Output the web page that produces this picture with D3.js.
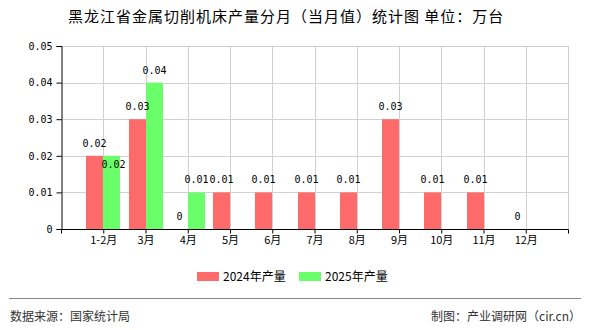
<!DOCTYPE html>
<html>
<head>
<meta charset="utf-8">
<script src="https://cdn.jsdelivr.net/npm/d3@7"></script>
<style>
  html, body { margin: 0; padding: 0; background: #fff; }
  svg { display: block; }
</style>
</head>
<body>
<svg id="chart" width="590" height="330"></svg>
<script>
// 黑龙江省金属切削机床产量分月（当月值）
const months = ["1-2月", "3月", "4月", "5月", "6月", "7月", "8月", "9月", "10月", "11月", "12月"];
const values2024 = [0.02, 0.03, 0, 0.01, 0.01, 0.01, 0.01, 0.03, 0.01, 0.01, 0];
const values2025 = [0.02, 0.04, 0.01, null, null, null, null, null, null, null, null];
const yTicks = [0, 0.01, 0.02, 0.03, 0.04, 0.05];
const seriesNames = ["2024年产量", "2025年产量"];
const seriesColors = ["#ff6a6a", "#6aff6a"];

const svg = d3.select("#chart");
const monoFont = "'DejaVu Sans Mono', 'Liberation Mono', monospace";
const cjkFont = "'Noto Sans CJK SC', 'Noto Sans', sans-serif";

const plotLeft = 61, plotRight = 568, plotTop = 46, plotBottom = 229;
const barW = 17;

const x = d3.scalePoint().domain(months).range([plotLeft, plotRight]).padding(1);
const y = d3.scaleLinear().domain([0, 0.05]).range([plotBottom, plotTop]);

// title
svg.append("text")
  .attr("x", 68).attr("y", 22)
  .attr("text-anchor", "start")
  .style("font-family", cjkFont)
  .style("font-size", "15px")
  .style("letter-spacing", "1px")
  .attr("fill", "#000")
  .text("黑龙江省金属切削机床产量分月（当月值）统计图 单位：万台");

// grid
const grid = svg.append("g").attr("stroke", "#d0d0d0").attr("stroke-width", 1);
yTicks.forEach(t => {
  grid.append("line")
    .attr("x1", plotLeft).attr("x2", plotRight)
    .attr("y1", Math.round(y(t)) + 0.5).attr("y2", Math.round(y(t)) + 0.5);
});
months.forEach(m => {
  grid.append("line")
    .attr("x1", Math.round(x(m)) + 0.5).attr("x2", Math.round(x(m)) + 0.5)
    .attr("y1", plotTop).attr("y2", plotBottom);
});
grid.append("line")
  .attr("x1", plotRight + 0.5).attr("x2", plotRight + 0.5)
  .attr("y1", plotTop).attr("y2", plotBottom);

// bars
const bars = svg.append("g");
months.forEach((m, i) => {
  const cx = Math.round(x(m));
  const v1 = values2024[i];
  if (v1 !== null) {
    bars.append("rect")
      .attr("x", cx - barW).attr("width", barW)
      .attr("y", y(v1)).attr("height", y(0) - y(v1))
      .attr("fill", seriesColors[0]);
  }
  const v2 = values2025[i];
  if (v2 !== null) {
    bars.append("rect")
      .attr("x", cx).attr("width", barW)
      .attr("y", y(v2)).attr("height", y(0) - y(v2))
      .attr("fill", seriesColors[1]);
  }
});

// value labels
const labels = svg.append("g")
  .style("font-family", monoFont)
  .style("font-size", "10px")
  .attr("fill", "#000")
  .attr("text-anchor", "middle");
months.forEach((m, i) => {
  const cx = Math.round(x(m));
  const v1 = values2024[i];
  if (v1 !== null) {
    labels.append("text")
      .attr("x", cx - barW / 2).attr("y", y(v1) - 9)
      .text(String(v1));
  }
  const v2 = values2025[i];
  if (v2 !== null) {
    // the 1-2月 label sits inside the bar, clear of the neighbouring label
    const yy = (i === 0) ? y(v2) + 12 : y(v2) - 9;
    labels.append("text")
      .attr("x", cx + barW / 2 + (i === 0 ? 2 : 0)).attr("y", yy)
      .text(String(v2));
  }
});

// y axis
const yAxis = d3.axisLeft(y).tickValues(yTicks).tickSize(5).tickPadding(4)
  .tickFormat(d => d === 0 ? "0" : d3.format(".2f")(d));
const yg = svg.append("g").attr("transform", `translate(${plotLeft + 0.5},0)`).call(yAxis);
yg.select(".domain").attr("stroke", "#000");
yg.selectAll(".tick line").attr("stroke", "#000");
yg.selectAll(".tick text").style("font-family", monoFont).style("font-size", "10px").attr("fill", "#000");

// x axis
const xAxis = d3.axisBottom(x).tickSize(4).tickPadding(3).tickSizeOuter(4);
const xg = svg.append("g").attr("transform", `translate(0,${plotBottom + 0.5})`).call(xAxis);
xg.select(".domain").attr("stroke", "#000").attr("d", `M${plotLeft + 0.5},4V0H${plotRight + 0.5}V4`);
xg.selectAll(".tick line").attr("stroke", "#000");
xg.selectAll(".tick text").style("font-family", cjkFont).style("font-size", "11px").attr("fill", "#000");

// legend
const legend = svg.append("g").style("font-family", cjkFont).style("font-size", "12px");
const legendX = [197, 299];
seriesNames.forEach((name, i) => {
  legend.append("rect")
    .attr("x", legendX[i]).attr("y", 272).attr("width", 22).attr("height", 9)
    .attr("fill", seriesColors[i]);
  legend.append("text")
    .attr("x", legendX[i] + 26).attr("y", 281)
    .attr("fill", "#000")
    .text(name);
});

// footer
svg.append("line")
  .attr("x1", 9).attr("x2", 581).attr("y1", 298.5).attr("y2", 298.5)
  .attr("stroke", "#888").attr("stroke-width", 1);
svg.append("text")
  .attr("x", 10).attr("y", 321)
  .style("font-family", cjkFont).style("font-size", "12px").attr("fill", "#333")
  .text("数据来源：国家统计局");
svg.append("text")
  .attr("x", 581).attr("y", 321).attr("text-anchor", "end")
  .style("font-family", cjkFont).style("font-size", "12px").attr("fill", "#333")
  .text("制图：产业调研网（cir.cn）");
</script>
</body>
</html>
